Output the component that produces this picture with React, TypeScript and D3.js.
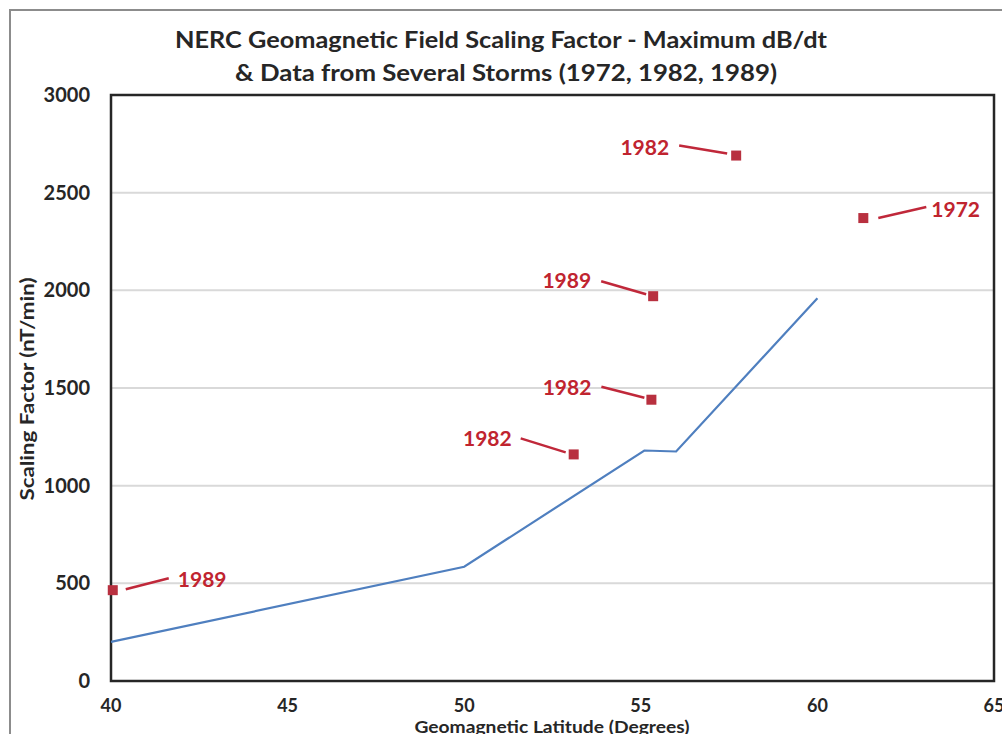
import React from "react";
import * as d3 from "d3";

// NERC scaling factor curve
const curveLat = [40, 50, 55.1, 56, 60];
const curveVal = [200, 585, 1180, 1175, 1960];

// Storm data points
const stormLat = [40.05, 53.1, 55.3, 55.35, 57.7, 61.3];
const stormVal = [465, 1160, 1440, 1970, 2690, 2370];
const stormYear = ["1989", "1982", "1982", "1989", "1982", "1972"];

// Axis ticks
const xTicks = [40, 45, 50, 55, 60, 65];
const yTicks = [0, 500, 1000, 1500, 2000, 2500, 3000];

// Label layout (pixel offsets from marker): label anchor + leader line
const labelLayout = [
  { side: "right", dx: 65, dy: -10, l1: [13, -1], l2: [56, -12] },
  { side: "left", dx: -62, dy: -15, l1: [-53, -16], l2: [-8, -2] },
  { side: "left", dx: -60, dy: -12, l1: [-50, -13], l2: [-7, -2] },
  { side: "left", dx: -62, dy: -15, l1: [-52, -15], l2: [-7, -2] },
  { side: "left", dx: -67, dy: -8, l1: [-57, -10], l2: [-9, -2] },
  { side: "right", dx: 68, dy: -8, l1: [15, 0], l2: [63, -11] },
];

const W = 1002;
const H = 734;
const M = { left: 111, right: 994, top: 95, bottom: 681 };
const FONT = "Lato, 'Open Sans', sans-serif";

export default function App() {
  const x = d3.scaleLinear().domain([40, 65]).range([M.left, M.right]);
  const y = d3.scaleLinear().domain([0, 3000]).range([M.bottom, M.top]);
  const line = d3
    .line<number>()
    .x((_, i) => x(curveLat[i]))
    .y((d) => y(d));

  return (
    <svg
      width={W}
      height={H}
      style={{ position: "absolute", left: 0, top: 0, background: "#fff" }}
      fontFamily={FONT}
    >
      {/* outer chart border */}
      <rect x={10} y={10} width={W + 20} height={H + 20} fill="#fff" stroke="#8c8c8c" strokeWidth={2} />

      {/* title */}
      <text x={501} y={48} textAnchor="middle" fontSize={23} fontWeight="bold" fill="#262626"
        textLength={652} lengthAdjust="spacingAndGlyphs">
        NERC Geomagnetic Field Scaling Factor - Maximum dB/dt
      </text>
      <text x={506} y={81} textAnchor="middle" fontSize={23} fontWeight="bold" fill="#262626"
        textLength={542} lengthAdjust="spacingAndGlyphs">
        &amp; Data from Several Storms (1972, 1982, 1989)
      </text>

      {/* gridlines */}
      {yTicks
        .filter((t) => t > 0 && t < 3000)
        .map((t) => (
          <line key={t} x1={M.left} x2={M.right} y1={y(t)} y2={y(t)} stroke="#d9d9d9" strokeWidth={2} />
        ))}

      {/* plot border */}
      <rect
        x={M.left}
        y={M.top}
        width={M.right - M.left}
        height={M.bottom - M.top}
        fill="none"
        stroke="#262626"
        strokeWidth={2.5}
      />

      {/* y tick labels */}
      {yTicks.map((t) => (
        <text key={t} x={90} y={y(t) + 7} textAnchor="end" fontSize={20} fontWeight="bold" fill="#262626">
          {t}
        </text>
      ))}
      {/* x tick labels */}
      {xTicks.map((t) => (
        <text key={t} x={x(t)} y={712} textAnchor="middle" fontSize={18} fontWeight="bold" fill="#262626">
          {t}
        </text>
      ))}

      {/* axis titles */}
      <text x={552} y={733} textAnchor="middle" fontSize={17} fontWeight="bold" fill="#262626"
        textLength={275} lengthAdjust="spacingAndGlyphs">
        Geomagnetic Latitude (Degrees)
      </text>
      <text
        transform={`translate(34,389) rotate(-90)`}
        textAnchor="middle"
        fontSize={19}
        fontWeight="bold"
        fill="#262626"
        textLength={223}
        lengthAdjust="spacingAndGlyphs"
      >
        Scaling Factor (nT/min)
      </text>

      {/* curve */}
      <path d={line(curveVal) || ""} fill="none" stroke="#4f7fbf" strokeWidth={2.2} />

      {/* storm points */}
      {stormVal.map((v, i) => {
        const px = x(stormLat[i]);
        const py = y(v);
        const L = labelLayout[i];
        return (
          <g key={i}>
            <line
              x1={px + L.l1[0]}
              y1={py + L.l1[1]}
              x2={px + L.l2[0]}
              y2={py + L.l2[1]}
              stroke="#c0283a"
              strokeWidth={2.5}
            />
            <rect x={px - 5} y={py - 5} width={10} height={10} fill="#b8303f" />
            <text
              x={px + L.dx}
              y={py + L.dy + 7}
              textAnchor={L.side === "right" ? "start" : "end"}
              fontSize={21}
              fontWeight="bold"
              fill="#c0242f"
            >
              {stormYear[i]}
            </text>
          </g>
        );
      })}
    </svg>
  );
}
